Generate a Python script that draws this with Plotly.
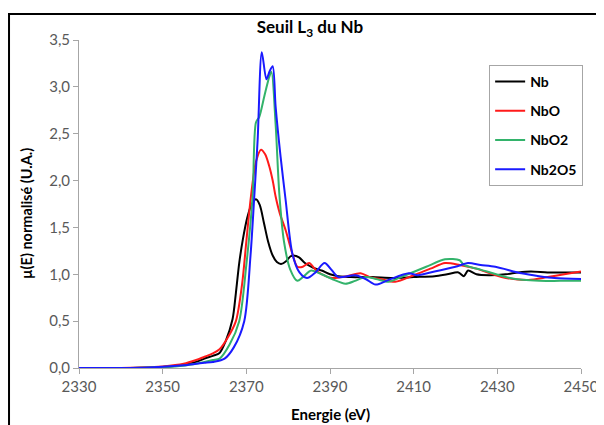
import plotly.graph_objects as go

# energies (eV) and normalised mu(E), one pair per compound
e_nb = [2330, 2340, 2345, 2350, 2355, 2358, 2360, 2362, 2363.6, 2365, 2366.7, 2367.5, 2368.3,
        2369.2, 2370.2, 2371.2, 2372.3, 2373.2, 2374.2, 2375.2, 2376.3, 2377.3, 2378.3, 2379.5,
        2380.5, 2381.3, 2382.6, 2384, 2386, 2388, 2390, 2392, 2395, 2400, 2405, 2410, 2415,
        2418, 2420.7, 2422, 2423, 2425, 2428, 2432, 2435, 2438, 2442, 2446, 2450]
mu_nb = [0.0, 0.0, 0.003, 0.012, 0.035, 0.065, 0.1, 0.13, 0.16, 0.28, 0.52, 0.8, 1.12,
         1.38, 1.6, 1.74, 1.8, 1.74, 1.55, 1.35, 1.2, 1.13, 1.11, 1.14,
         1.19, 1.2, 1.18, 1.12, 1.07, 1.04, 1.0, 0.98, 0.97, 0.97, 0.96, 0.97, 0.98,
         1.0, 1.02, 0.98, 1.04, 1.0, 0.99, 1.0, 1.02, 1.03, 1.02, 1.02, 1.02]

e_nbo = [2330, 2340, 2345, 2350, 2355, 2358, 2360, 2362, 2363.6, 2365.5, 2367.5, 2369, 2370,
         2371.1, 2372.3, 2373.5, 2374.5, 2375.5, 2376.3, 2377, 2378, 2379.4, 2380.8, 2382.2,
         2383.5, 2385, 2387, 2390.5, 2394, 2397.3, 2399.5, 2402, 2405.6, 2410, 2414, 2417.5,
         2421, 2425, 2431, 2437.4, 2442, 2446, 2450]
mu_nbo = [0.0, 0.0, 0.005, 0.017, 0.045, 0.085, 0.12, 0.155, 0.2, 0.32, 0.5, 0.9, 1.35,
          1.83, 2.2, 2.33, 2.28, 2.15, 2.0, 1.83, 1.65, 1.47, 1.25, 1.08,
          1.08, 1.12, 1.03, 0.96, 0.98, 1.01, 0.97, 0.95, 0.92, 0.99, 1.06, 1.12,
          1.1, 1.06, 0.97, 0.94, 0.97, 1.0, 1.03]

e_nbo2 = [2330, 2340, 2345, 2350, 2355, 2358, 2360, 2362, 2363.6, 2366, 2368.3, 2370, 2371.5,
          2372.3, 2373.1, 2374.3, 2375.5, 2376, 2377, 2377.9, 2379, 2380.5, 2382.2, 2383.5,
          2385.5, 2388, 2390.5, 2393.7, 2396, 2398.5, 2401, 2404, 2408, 2413, 2417.5, 2421,
          2422, 2426, 2433, 2440, 2445, 2450]
mu_nbo2 = [0.0, 0.0, 0.003, 0.01, 0.025, 0.045, 0.065, 0.085, 0.1, 0.25, 0.5, 1.1, 1.83,
           2.62, 2.68, 2.9, 3.11, 3.16, 2.6, 1.85, 1.35, 1.05, 0.93, 0.97,
           1.04, 1.0, 0.95, 0.9, 0.93, 0.97, 0.95, 0.92, 0.99, 1.08, 1.16, 1.15,
           1.1, 1.05, 0.96, 0.93, 0.93, 0.93]

e_nb2o5 = [2330, 2340, 2345, 2350, 2355, 2358, 2360, 2362, 2364.8, 2367, 2369.5, 2371, 2371.9,
           2372.7, 2373.7, 2374.8, 2375.6, 2376.3, 2377, 2378.2, 2379.4, 2381, 2382.7, 2384.5,
           2386.5, 2388.7, 2390.5, 2392, 2396, 2398.5, 2400.9, 2404, 2408.8, 2411, 2415,
           2420, 2423, 2426, 2429.5, 2435.8, 2440, 2443.7, 2450]
mu_nb2o5 = [0.0, 0.0, 0.004, 0.013, 0.03, 0.045, 0.055, 0.065, 0.1, 0.22, 0.5, 1.2, 1.83,
            2.43, 3.37, 3.08, 3.17, 3.22, 2.79, 2.25, 1.79, 1.22, 1.02, 0.96,
            1.02, 1.12, 1.04, 0.97, 0.99, 0.95, 0.89, 0.94, 1.01, 0.99, 1.03,
            1.08, 1.12, 1.1, 1.08, 1.01, 0.98, 0.96, 0.95]

series = [
    ("Nb", e_nb, mu_nb, "#000000"),
    ("NbO", e_nbo, mu_nbo, "#ff1a1a"),
    ("NbO2", e_nbo2, mu_nbo2, "#33b36b"),
    ("Nb2O5", e_nb2o5, mu_nb2o5, "#1a1aff"),
]

fig = go.Figure()
for name, e, mu, col in series:
    fig.add_trace(go.Scatter(
        x=e, y=mu, mode="lines", name="<b>%s</b>" % name,
        legendgroup=name,
        line=dict(color=col, width=2, shape="spline", smoothing=0.8),
    ))

# the page adds an 8px body margin, so the layout is shifted up/left by that much
fig.update_layout(
    width=604, height=425,
    margin=dict(l=71, r=31, t=32, b=65),
    paper_bgcolor="white", plot_bgcolor="white",
    font=dict(family="Lato, Open Sans, sans-serif", size=15, color="#595959"),
    separators=", ",
    title=dict(text="<b>Seuil L<sub>3</sub> du Nb</b>", x=0.5, xanchor="center",
               y=0.955, yanchor="middle", font=dict(size=17, color="black")),
    showlegend=True,
    legend=dict(x=0.817, y=0.924, xanchor="left", yanchor="top",
                bordercolor="#a6a6a6", borderwidth=1, bgcolor="white",
                traceorder="grouped", tracegroupgap=8,
                font=dict(size=14, color="black")),
)

fig.update_xaxes(
    range=[2330, 2450], dtick=20, tick0=2330,
    showgrid=False, zeroline=False,
    showline=True, linecolor="#a6a6a6", linewidth=1,
    ticks="outside", ticklen=5, tickcolor="#a6a6a6",
)
fig.update_yaxes(
    range=[0, 3.5], dtick=0.5, tickformat=".1f",
    showgrid=False, zeroline=False,
    showline=True, linecolor="#a6a6a6", linewidth=1,
    ticks="outside", ticklen=5, tickcolor="#a6a6a6",
)

# axis titles placed as annotations to match the reference offsets
fig.add_annotation(text="<b>Energie (eV)</b>", xref="paper", yref="paper",
                   x=0.5, y=-0.14, showarrow=False,
                   xanchor="center", yanchor="middle",
                   font=dict(size=15, color="black"))
fig.add_annotation(text="<b>µ(E) normalisé (U.A.)</b>", xref="paper", yref="paper",
                   x=-0.1036, y=0.4726, textangle=-90, showarrow=False,
                   xanchor="center", yanchor="middle",
                   font=dict(size=14.5, color="black"))

# outer chart frame (left and top edges visible)
fig.add_shape(type="path", xref="paper", yref="paper",
              path="M -0.1394,-0.4 L -0.1394,1.0793 L 1.2,1.0793",
              line=dict(color="black", width=2))

fig.write_html("out.html")
